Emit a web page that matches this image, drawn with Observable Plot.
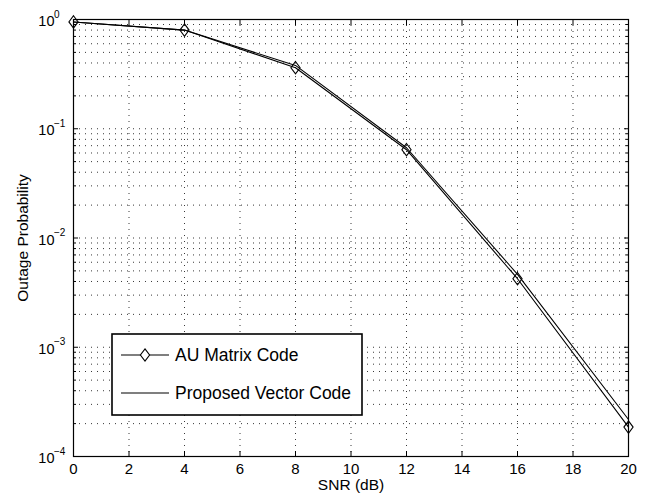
<!DOCTYPE html>
<html><head><meta charset="utf-8">
<script src="https://cdn.jsdelivr.net/npm/d3@7"></script>
<script src="https://cdn.jsdelivr.net/npm/@observablehq/plot@0.6"></script>
<style>
body{margin:0;background:#fff;}
#chart svg{display:block;}
</style>
</head><body><div id="chart"></div>
<script>
// ---- data ----
const snr = [0, 4, 8, 12, 16, 20];
const auMatrix = [0.95, 0.80, 0.362, 0.0643, 0.00424, 0.000186];
const proposedVector = [0.95, 0.80, 0.380, 0.0670, 0.00465, 0.000218];
const seriesNames = ["AU Matrix Code", "Proposed Vector Code"];
const xTicks = [0, 2, 4, 6, 8, 10, 12, 14, 16, 18, 20];
const yDecades = [0, -1, -2, -3, -4];
const xLabel = "SNR (dB)";
const yLabel = "Outage Probability";

// ---- derived tables ----
const rows = [];
snr.forEach((s, i) => rows.push({snr: s, value: auMatrix[i], series: seriesNames[0]}));
snr.forEach((s, i) => rows.push({snr: s, value: proposedVector[i], series: seriesNames[1]}));
const auRows = rows.filter(d => d.series === seriesNames[0]);
const majorY = yDecades.map(k => Math.pow(10, k));
const minorY = [];
for (const k of yDecades.slice(1)) for (let m = 2; m <= 9; m++) minorY.push(m * Math.pow(10, k));
const allY = majorY.concat(minorY);

const FONT = "'Liberation Sans', Arial, Helvetica, sans-serif";
const tallDiamond = {
  draw(ctx) { const w = 4.6, h = 6.2; ctx.moveTo(0, -h); ctx.lineTo(w, 0); ctx.lineTo(0, h); ctx.lineTo(-w, 0); ctx.closePath(); }
};
const gridStyle = {stroke: "#222", strokeOpacity: 0.9, strokeWidth: 1, strokeDasharray: "1,5"};

const plot = Plot.plot({
  width: 654, height: 498,
  marginLeft: 73, marginRight: 26, marginTop: 19, marginBottom: 42,
  style: {fontFamily: FONT, background: "#fff", color: "#000", overflow: "visible"},
  x: {domain: [0, 20]},
  y: {type: "log", domain: [1e-4, 1]},
  marks: [
    Plot.gridX(xTicks.slice(1, -1), gridStyle),
    Plot.gridY(allY.filter(v => v > 1e-4 && v < 1), gridStyle),
    // inward tick marks
    Plot.axisX(xTicks, {anchor: "bottom", tickSize: -5, fill: "none", label: null}),
    Plot.axisX(xTicks, {anchor: "top", tickSize: -5, fill: "none", label: null}),
    Plot.axisY(majorY, {anchor: "left", tickSize: -5, fill: "none", label: null}),
    Plot.axisY(majorY, {anchor: "right", tickSize: -5, fill: "none", label: null}),
    Plot.axisY(minorY, {anchor: "left", tickSize: -3, fill: "none", label: null}),
    Plot.axisY(minorY, {anchor: "right", tickSize: -3, fill: "none", label: null}),
    // x tick labels
    Plot.axisX(xTicks, {anchor: "bottom", tickSize: 0, tickPadding: 7, fontSize: 15, label: null, tickFormat: d => String(d)}),
    // y tick labels: 10 with superscript exponent
    Plot.text(yDecades, {y: d => Math.pow(10, d), text: () => "10", frameAnchor: "left", dx: -19, dy: 2, textAnchor: "end", fontSize: 14.5}),
    Plot.text(yDecades, {y: d => Math.pow(10, d), text: d => d === 0 ? "0" : "\u2212" + (-d), frameAnchor: "left", dx: -19.5, dy: -5, textAnchor: "start", fontSize: 10}),
    // axis titles
    Plot.text([xLabel], {frameAnchor: "bottom", dy: 33, fontSize: 15.5, textAnchor: "middle"}),
    Plot.text([yLabel], {frameAnchor: "left", dx: -50, rotate: -90, fontSize: 15.5, textAnchor: "middle"}),
    Plot.frame({stroke: "#000", strokeWidth: 1.2}),
    // data
    Plot.line(rows, {x: "snr", y: "value", z: "series", stroke: "#000", strokeWidth: 1.1}),
    Plot.dot(auRows, {x: "snr", y: "value", symbol: tallDiamond, stroke: "#000", strokeWidth: 1.1, fill: "none"})
  ]
});

document.getElementById("chart").appendChild(plot);

// ---- legend (inside plot area) ----
const svg = d3.select(plot);
const lg = svg.append("g").attr("font-family", FONT).attr("text-anchor", "start");
lg.append("rect").attr("x", 112).attr("y", 334).attr("width", 250).attr("height", 81)
  .attr("fill", "#fff").attr("stroke", "#000").attr("stroke-width", 1.6);
const rowsY = [355, 393];
seriesNames.forEach((name, i) => {
  const y = rowsY[i];
  lg.append("line").attr("x1", 121).attr("x2", 169).attr("y1", y).attr("y2", y)
    .attr("stroke", "#000").attr("stroke-width", 1.1);
  if (i === 0) {
    lg.append("path").attr("d", "M145," + (y - 6.2) + "L149.6," + y + "L145," + (y + 6.2) + "L140.4," + y + "Z")
      .attr("fill", "#fff").attr("stroke", "#000").attr("stroke-width", 1.1);
  }
  lg.append("text").attr("x", 175).attr("y", y).attr("dy", "0.35em").attr("text-anchor", "start")
    .attr("font-size", 17.5).attr("fill", "#000").text(name);
});
</script>
</body></html>
